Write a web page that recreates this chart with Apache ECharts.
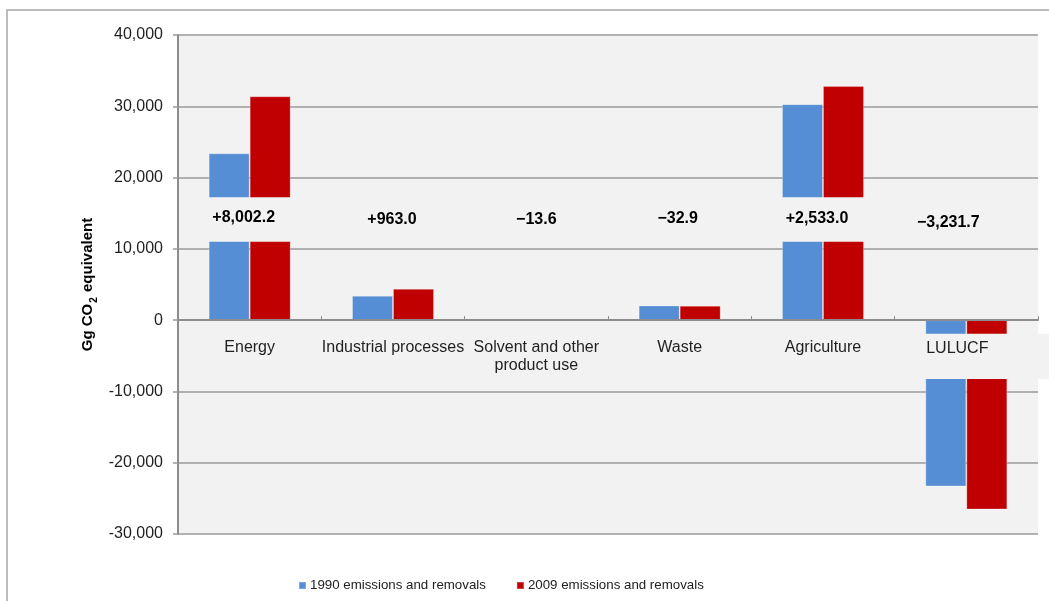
<!DOCTYPE html>
<html>
<head>
<meta charset="utf-8">
<title>Emissions and removals by sector, 1990 and 2009</title>
<script src="https://cdn.jsdelivr.net/npm/echarts@6/dist/echarts.min.js"></script>
<style>
  html, body { margin: 0; padding: 0; background: #ffffff; }
  #chart { width: 1049px; height: 601px; }
</style>
</head>
<body>
<div id="chart"></div>
<script>
// ---- data -------------------------------------------------------------
const categories = ['Energy', 'Industrial processes', 'Solvent and other\nproduct use', 'Waste', 'Agriculture', 'LULUCF'];
const seriesNames = ['1990 emissions and removals', '2009 emissions and removals'];
const emissions1990 = [23400, 3425, 45, 2050, 30300, -23320];
const emissions2009 = [31402.2, 4388, 31.4, 2017.1, 32833, -26551.7];
const changeLabels = ['+8,002.2', '+963.0', '\u221213.6', '\u221232.9', '+2,533.0', '\u22123,231.7'];
const yMin = -30000, yMax = 40000, yStep = 10000;

// ---- layout / style ---------------------------------------------------
const FONT = "'Liberation Sans', Arial, Helvetica, sans-serif";
const BLUE = '#558ed5', RED = '#c00000', PLOT_BG = '#f2f2f2';
const W = 1049, H = 601;
const GRID = { left: 178, right: 11, top: 35, bottom: 67 };
// value ranges hidden behind the text panels (axis break look)
const upperPanel = [11000, 17250];
const lowerPanel = [-8270, -1900];
// per-category nudge of the change labels (px)
const changeShiftX = [-6, -1, 0, -2, -6, -18];
const changeShiftY = [-2, 0, 0, -1, -1, 3];

// the category axis sits on the zero line of the value axis
const plotHeight = H - GRID.top - GRID.bottom;
const zeroOffset = plotHeight * (0 - yMin) / (yMax - yMin);

const chart = echarts.init(document.getElementById('chart'), null, { renderer: 'canvas' });

const option = {
  animation: false,
  backgroundColor: '#ffffff',
  textStyle: { fontFamily: FONT },
  grid: {
    left: GRID.left, right: GRID.right, top: GRID.top, bottom: GRID.bottom,
    show: true, backgroundColor: PLOT_BG, borderWidth: 0
  },
  legend: {
    left: 298, top: 579, padding: 0,
    itemWidth: 7, itemHeight: 7, itemGap: 30,
    icon: 'rect',
    textStyle: { fontFamily: FONT, fontSize: 13.3, color: '#222', padding: [0, 0, 0, -1] },
    data: seriesNames
  },
  xAxis: {
    type: 'category',
    data: categories,
    position: 'bottom',
    offset: -zeroOffset,
    z: 70,
    axisLine: { onZero: false, lineStyle: { color: '#8c8c8c', width: 2 } },
    axisTick: { show: true, inside: true, length: 4, lineStyle: { color: '#8c8c8c', width: 1 } },
    axisLabel: {
      interval: 0, margin: 18, fontFamily: FONT, fontSize: 16, color: '#1f1f1f', lineHeight: 18,
      formatter: function (v) { return v === 'LULUCF' ? '{l|' + v + '}' : v; },
      rich: { l: { fontFamily: FONT, fontSize: 16, color: '#1f1f1f', padding: [3, 18, 0, 0] } }
    },
    splitLine: { show: false }
  },
  yAxis: {
    type: 'value',
    min: yMin, max: yMax, interval: yStep,
    axisLine: { show: true, lineStyle: { color: '#8c8c8c', width: 2 } },
    axisTick: { show: true, length: 5, lineStyle: { color: '#9a9a9a', width: 1.5 } },
    axisLabel: {
      margin: 15, fontFamily: FONT, fontSize: 16, color: '#1f1f1f',
      formatter: function (v) { return v < 0 ? '-' + Math.abs(v).toLocaleString('en-US') : v.toLocaleString('en-US'); }
    },
    splitLine: { show: true, lineStyle: { color: '#9a9a9a', width: 1.5 } }
  },
  series: [
    {
      name: seriesNames[0], type: 'bar', data: emissions1990,
      barWidth: 41, barGap: '0%',
      itemStyle: { color: BLUE, borderColor: 'rgba(255,255,255,0.25)', borderWidth: 1 }
    },
    {
      name: seriesNames[1], type: 'bar', data: emissions2009,
      barWidth: 41, barGap: '0%',
      itemStyle: { color: RED, borderColor: 'rgba(255,255,255,0.25)', borderWidth: 1 }
    }
  ]
};

chart.setOption(option);

// ---- overlays: text panels with the change between the two years ----
function drawOverlays() {
  const yPx = v => chart.convertToPixel({ yAxisIndex: 0 }, v);
  const xPx = i => chart.convertToPixel({ xAxisIndex: 0 }, i);
  const band = xPx(1) - xPx(0);
  const elements = [];

  // outer frame of the figure
  elements.push({
    type: 'rect', z: 1, silent: true,
    shape: { x: 7, y: 10, width: W + 50, height: 700 },
    style: { fill: null, stroke: '#a6a6a6', lineWidth: 1.5 }
  });

  // panels hiding the middle of the tallest bars
  [0, 4].forEach(i => {
    const top = yPx(upperPanel[1]), bot = yPx(upperPanel[0]);
    elements.push({
      type: 'rect', z: 50, silent: true,
      shape: { x: xPx(i) - band / 2 + 20, y: top, width: band - 40, height: bot - top },
      style: { fill: PLOT_BG }
    });
  });
  {
    const i = 5;
    const top = yPx(lowerPanel[1]), bot = yPx(lowerPanel[0]);
    const x0 = xPx(i) - band / 2 + 20;
    elements.push({
      type: 'rect', z: 50, silent: true,
      shape: { x: x0, y: top, width: W - x0, height: bot - top },
      style: { fill: PLOT_BG }
    });
  }

  // change labels
  const labelY = yPx((upperPanel[0] + upperPanel[1]) / 2);
  changeLabels.forEach((t, i) => {
    elements.push({
      type: 'text', z: 60, silent: true,
      x: xPx(i) + changeShiftX[i], y: labelY + changeShiftY[i],
      style: {
        text: t, fontFamily: FONT, fontSize: 16, fontWeight: 'bold', fill: '#000',
        align: 'center', verticalAlign: 'middle'
      }
    });
  });

  // y-axis title with subscript
  const gridTop = yPx(yMax), gridBot = yPx(yMin);
  elements.push({
    type: 'text', z: 60, silent: true,
    x: 86, y: (gridTop + gridBot) / 2, rotation: Math.PI / 2,
    style: {
      text: '{a|Gg CO}{s|2}{a| equivalent}',
      align: 'center', verticalAlign: 'middle',
      rich: {
        a: { fontFamily: FONT, fontSize: 15, fontWeight: 'bold', fill: '#000', lineHeight: 18, verticalAlign: 'bottom' },
        s: { fontFamily: FONT, fontSize: 10, fontWeight: 'bold', fill: '#000', lineHeight: 18, verticalAlign: 'bottom', padding: [0, 1, -4, 1] }
      }
    }
  });

  chart.setOption({ graphic: { elements: elements } });
}
drawOverlays();
</script>
</body>
</html>
